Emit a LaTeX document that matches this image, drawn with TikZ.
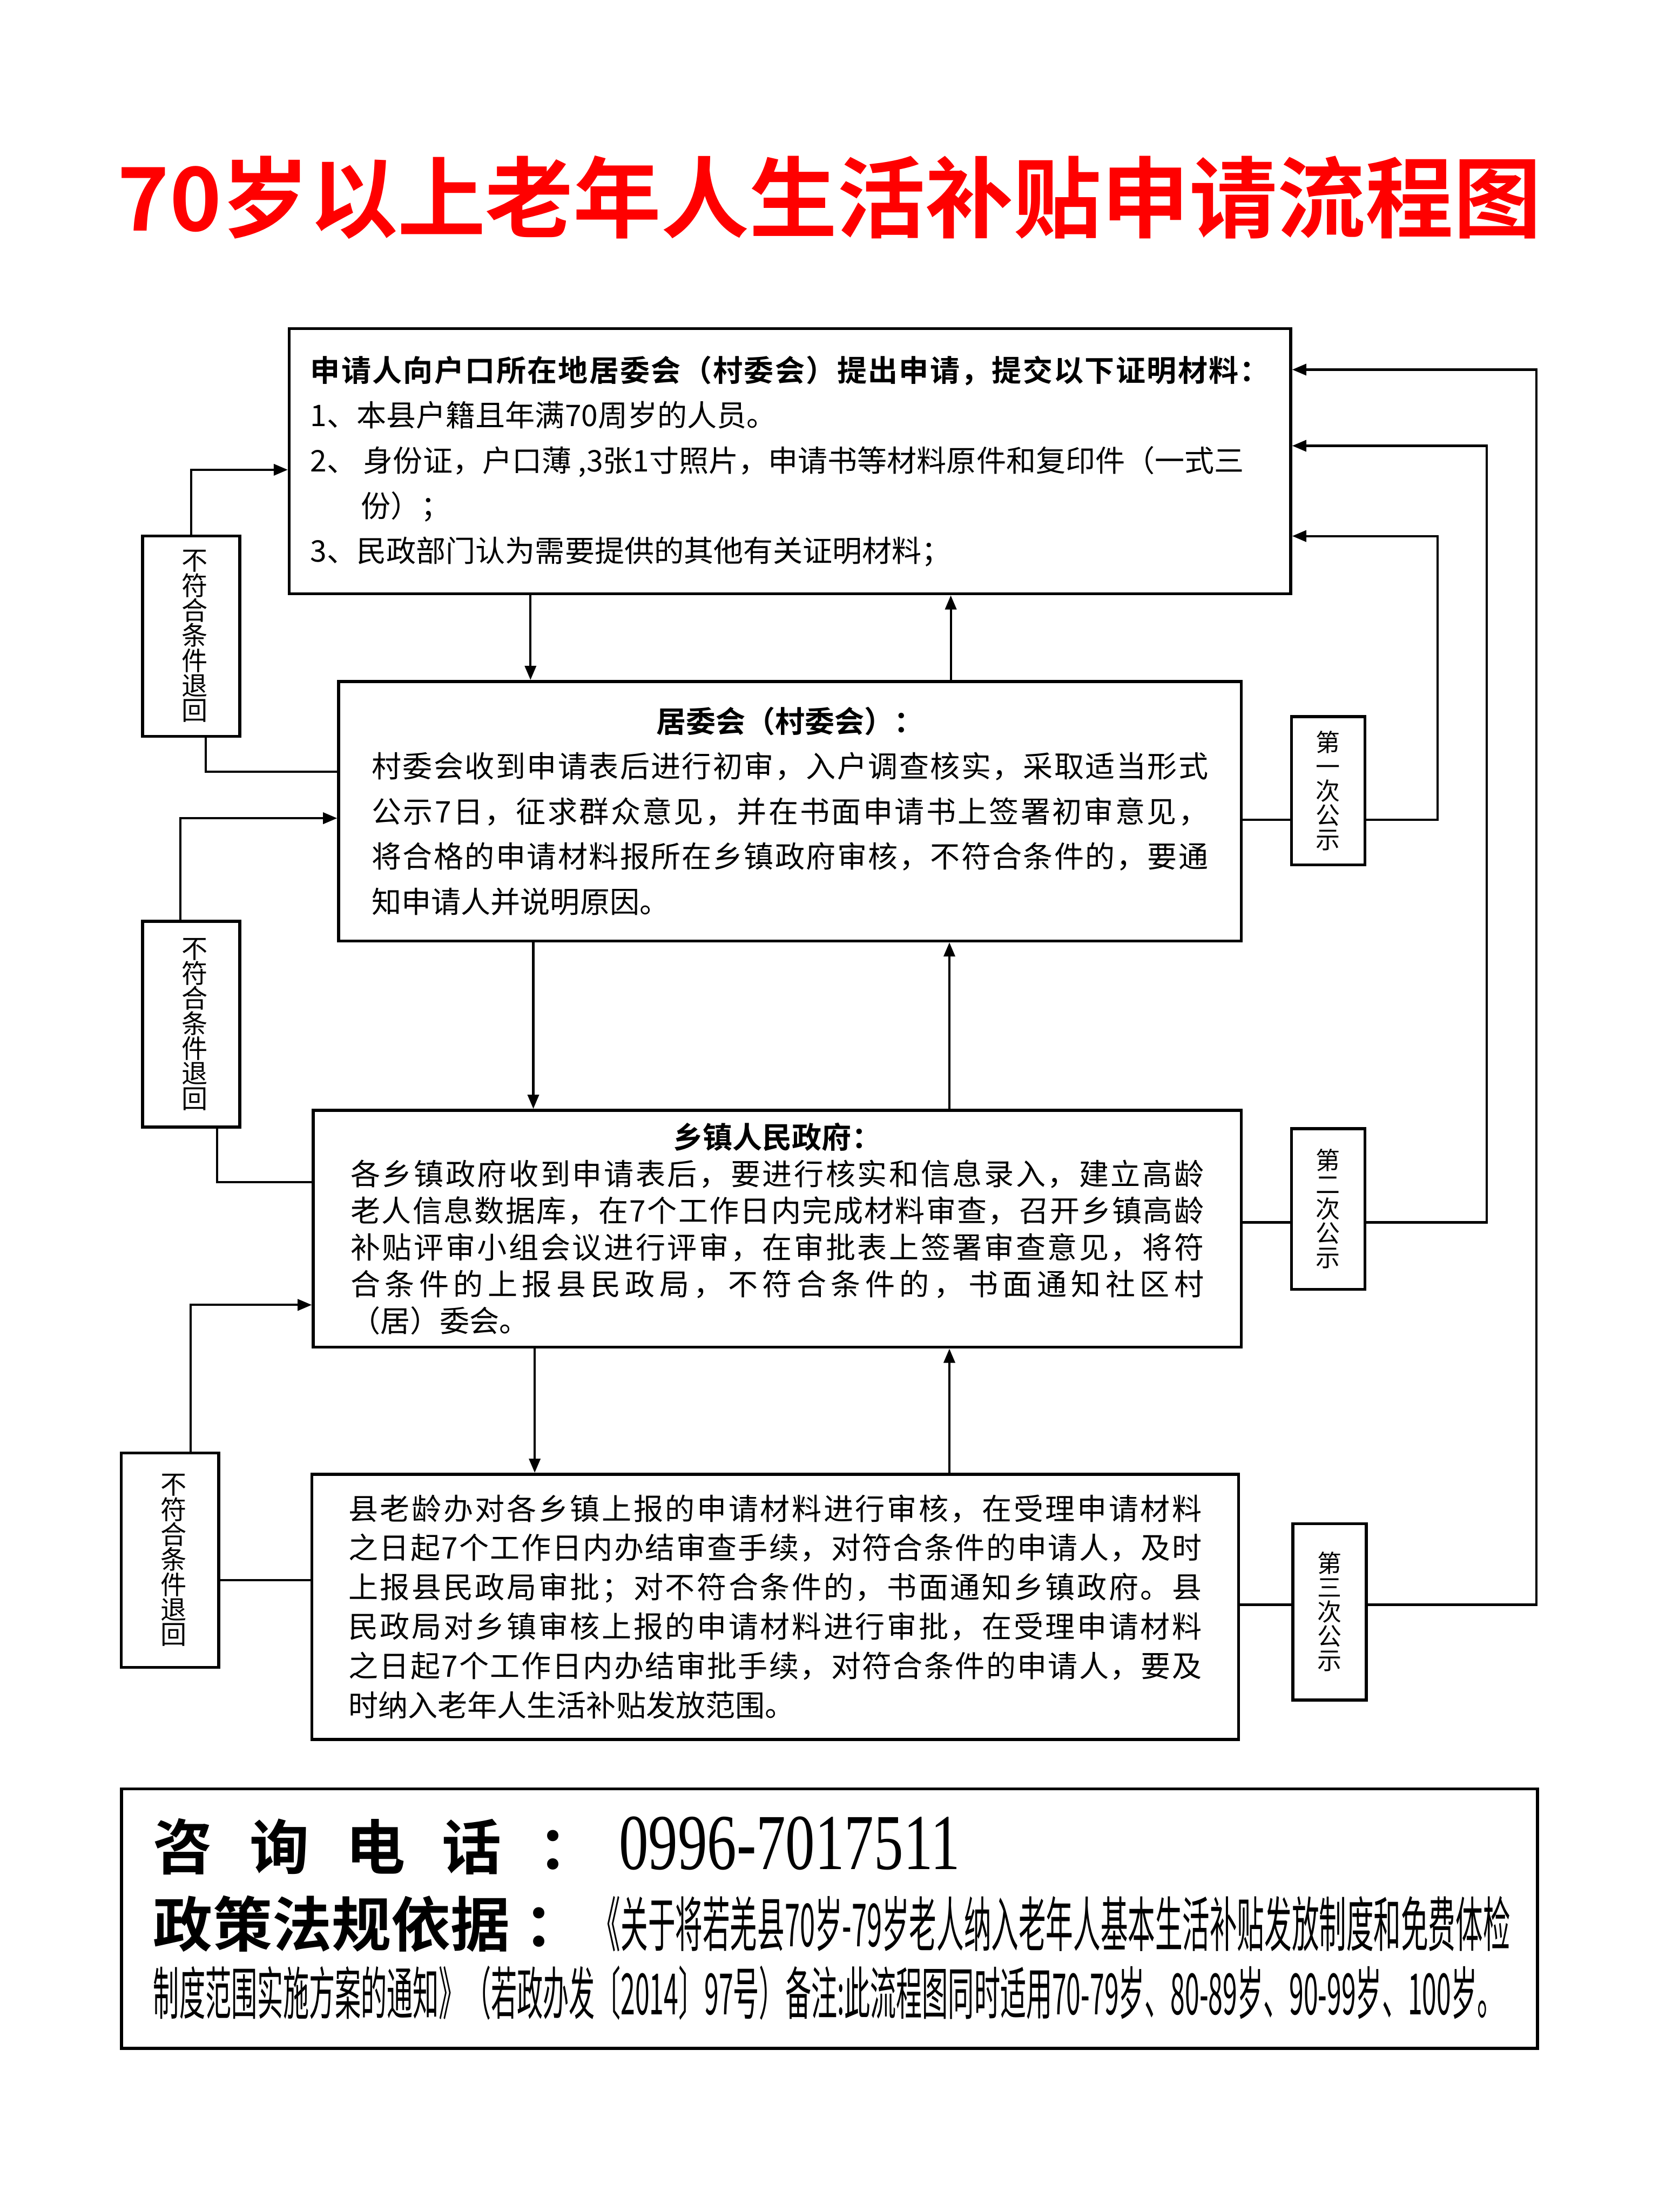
\documentclass[tikz,border=0pt]{standalone}
\usepackage{graphicx}
\usepackage{fontspec}
\setmainfont{Noto Sans CJK SC}[BoldFont={Noto Sans CJK SC Bold}]
\newfontfamily\numfont{Liberation Serif}
\usetikzlibrary{arrows.meta}

% one line of characters spread evenly over a given width
\newcommand\spreadline[2]{\hbox to #1{\spreadchar#2\relax\unskip}}
\def\spreadchar#1{\ifx\relax#1\else#1\hfill\expandafter\spreadchar\fi}

\begin{document}
\begin{tikzpicture}[x=0.02cm,y=-0.02cm,thick,
  box/.style={draw,line width=1.2pt,inner sep=0pt,align=left},
  nope/.style={draw,line width=1.2pt,inner sep=0pt,minimum width=1.38cm,align=center,font=\fontsize{10.5}{10.1}\selectfont},
  pub/.style={draw,line width=1.2pt,inner sep=0pt,minimum width=1.04cm,align=center,font=\fontsize{9.8}{9.8}\selectfont},
  flow/.style={line width=0.9pt,-{Triangle[length=0.2cm,width=0.16cm]}},
  link/.style={line width=0.9pt}]

  \useasboundingbox (0,0) rectangle (1176,1568);

  % title
  \node[text=red,font=\fontsize{35.5}{40}\selectfont\bfseries] (title) at (588,140) {70岁以上老年人生活补贴申请流程图};

  % the four steps
  \node[box,minimum width=14.2cm,minimum height=3.76cm,font=\fontsize{12}{18.2}\selectfont] (box1) at (560,327) {%
    {\bfseries\spreadline{13.6cm}{申请人向户口所在地居委会（村委会）提出申请，提交以下证明材料：}}\\
    1、本县户籍且年满70周岁的人员。\\
    2、 身份证，户口薄 ,3张1寸照片，申请书等材料原件和复印件（一式三\\
    \hspace*{0.72cm}份）；\\
    3、民政部门认为需要提供的其他有关证明材料；};

  \node[box,minimum width=12.8cm,minimum height=3.68cm,font=\fontsize{12}{18.2}\selectfont] (box2) at (560,575) {%
    {\bfseries\makebox[11.86cm]{居委会（村委会）：}}\\
    \spreadline{11.86cm}{村委会收到申请表后进行初审，入户调查核实，采取适当形式}\\
    \spreadline{11.86cm}{公示7日，征求群众意见，并在书面申请书上签署初审意见，}\\
    \spreadline{11.86cm}{将合格的申请材料报所在乡镇政府审核，不符合条件的，要通}\\
    知申请人并说明原因。};

  \node[box,minimum width=13.16cm,minimum height=3.36cm,font=\fontsize{12}{14.8}\selectfont] (box3) at (551,871) {%
    {\bfseries\makebox[12.1cm]{乡镇人民政府：}}\\
    \spreadline{12.1cm}{各乡镇政府收到申请表后，要进行核实和信息录入，建立高龄}\\
    \spreadline{12.1cm}{老人信息数据库，在7个工作日内完成材料审查，召开乡镇高龄}\\
    \spreadline{12.1cm}{补贴评审小组会议进行评审，在审批表上签署审查意见，将符}\\
    \spreadline{12.1cm}{合条件的上报县民政局，不符合条件的，书面通知社区村}\\
    （居）委会。};

  \node[box,minimum width=13.14cm,minimum height=3.76cm,font=\fontsize{12}{15.9}\selectfont] (box4) at (549.5,1139) {%
    \spreadline{12.1cm}{县老龄办对各乡镇上报的申请材料进行审核，在受理申请材料}\\
    \spreadline{12.1cm}{之日起7个工作日内办结审查手续，对符合条件的申请人，及时}\\
    \spreadline{12.1cm}{上报县民政局审批；对不符合条件的，书面通知乡镇政府。县}\\
    \spreadline{12.1cm}{民政局对乡镇审核上报的申请材料进行审批，在受理申请材料}\\
    \spreadline{12.1cm}{之日起7个工作日内办结审批手续，对符合条件的申请人，要及}\\
    时纳入老年人生活补贴发放范围。};

  % arrows between the steps
  \foreach \a/\b/\dn/\up in {1/2/-3.68/2.28, 2/3/-3.64/2.44, 3/4/-3.44/2.47} {
    \draw[flow] ([xshift=\dn cm]box\a.south) -- ([xshift=\dn cm]box\a.south |- box\b.north);
    \draw[flow] ([xshift=\up cm]box\b.north) -- ([xshift=\up cm]box\b.north |- box\a.south);
  }

  % returned applications, left side
  \foreach \n/\px/\py/\h in {A/135.5/451/2.84, B/135.5/726/2.92, C/120.5/1106/3.04}
    \node[nope,minimum height=\h cm] (nope\n) at (\px,\py) {\hspace*{0.1cm}不\\\hspace*{0.1cm}符\\\hspace*{0.1cm}合\\\hspace*{0.1cm}条\\\hspace*{0.1cm}件\\\hspace*{0.1cm}退\\\hspace*{0.1cm}回};

  \draw[flow] (nopeA.north) |- ([yshift=-0.12cm]box1.west);
  \draw[link] ([xshift=0.21cm]nopeA.south) |- ([yshift=0.56cm]box2.west);
  \draw[flow] ([xshift=-0.15cm]nopeB.north) |- ([yshift=-0.1cm]box2.west);
  \draw[link] ([xshift=0.37cm]nopeB.south) |- ([yshift=0.66cm]box3.west);
  \draw[flow] ([xshift=0.29cm]nopeC.north) |- ([yshift=-1.08cm]box3.west);
  \draw[link] ([yshift=-0.28cm]nopeC.east) -- ([yshift=-0.28cm]nopeC.east -| box4.west);

  % public notices, right side
  \foreach \n/\m/\word/\px/\py/\h/\lift/\hit/\xx in
    {1/2/一/941.5/560.5/2.1/-0.41/-1.06/1019,
     2/3/二/941.5/857/2.28/-0.19/0.22/1054,
     3/4/三/942.5/1142.5/2.5/0.1/1.3/1089} {
    \node[pub,minimum height=\h cm] (pub\n) at (\px,\py) {第\\\word\\次\\公\\示};
    \coordinate (turn\n) at (\xx,0);
    \draw[link] ([yshift=\lift cm]pub\n.west -| box\m.east) -- ([yshift=\lift cm]pub\n.west);
    \draw[flow] ([yshift=\lift cm]pub\n.east) -| ([yshift=\hit cm]box1.east -| turn\n) -- ([yshift=\hit cm]box1.east);
  }

  % contact and policy box
  \node[draw,line width=1.2pt,minimum width=20.08cm,minimum height=3.68cm] (info) at (588,1360) {};
  \node[anchor=base west,inner sep=0pt,font=\fontsize{24}{24}\selectfont\bfseries] (phonelbl) at (108,1325) {\spreadline{6.3cm}{咨询电话：}};
  \node[anchor=base west,inner sep=0pt] (phone) at (438,1325) {\resizebox{4.84cm}{\height}{\numfont\fontsize{32}{32}\selectfont 0996-7017511}};
  \node[anchor=base west,inner sep=0pt,font=\fontsize{24}{24}\selectfont\bfseries] (lawlbl) at (108,1380) {政策法规依据\hspace{0.2cm}：};
  \node[anchor=base west,inner sep=0pt] (law1) at (420,1380) {\resizebox{13cm}{\height}{\fontsize{24}{24}\selectfont 《关于将若羌县70岁-79岁老人纳入老年人基本生活补贴发放制度和免费体检}};
  \node[anchor=base west,inner sep=0pt] (law2) at (108,1428) {\resizebox{19.14cm}{\height}{\fontsize{23}{23}\selectfont 制度范围实施方案的通知》（若政办发〔2014〕97号）备注:此流程图同时适用70-79岁、80-89岁、90-99岁、100岁。}};

\end{tikzpicture}
\end{document}
